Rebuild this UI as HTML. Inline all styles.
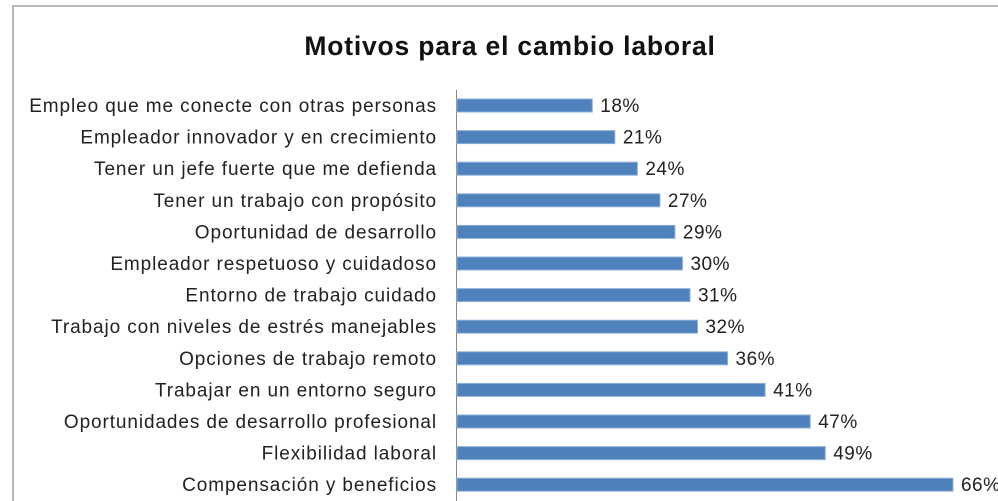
<!DOCTYPE html>
<html><head><meta charset="utf-8"><style>
html,body{margin:0;padding:0;background:#fff;width:998px;height:501px;overflow:hidden}
svg text{font-family:"Liberation Sans","DejaVu Sans",sans-serif}
</style></head><body>
<svg id="chart" width="998" height="501">
<rect x="13" y="6" width="990" height="510" fill="#fff" stroke="#a0a0a0" stroke-width="1.5"/>
<text x="510" y="55" text-anchor="middle" font-size="26.5" font-weight="bold" letter-spacing="0.8" fill="#111">Motivos para el cambio laboral</text>
<line x1="456.5" y1="90" x2="456.5" y2="501" stroke="#888" stroke-width="1"/>
<g id="bars"></g>
</svg>
<script>
const categories = ["Empleo que me conecte con otras personas","Empleador innovador y en crecimiento","Tener un jefe fuerte que me defienda","Tener un trabajo con propósito","Oportunidad de desarrollo","Empleador respetuoso y cuidadoso","Entorno de trabajo cuidado","Trabajo con niveles de estrés manejables","Opciones de trabajo remoto","Trabajar en un entorno seguro","Oportunidades de desarrollo profesional","Flexibilidad laboral","Compensación y beneficios"];
const values = [18,21,24,27,29,30,31,32,36,41,47,49,66];
const valueLabels = ["18%","21%","24%","27%","29%","30%","31%","32%","36%","41%","47%","49%","66%"];
const x0 = 457, pxPer = 7.515, y0 = 105.5, step = 31.6, bh = 13;
function xScale(v){ return x0 + v * pxPer; }
function yScale(i){ return y0 + i * step; }
const g = document.getElementById('bars');
const NS = 'http://www.w3.org/2000/svg';
categories.forEach((c, i) => {
  const y = yScale(i);
  const t = document.createElementNS(NS, 'text');
  t.setAttribute('x', 437); t.setAttribute('y', y + 6.5);
  t.setAttribute('text-anchor', 'end'); t.setAttribute('font-size', '19'); t.setAttribute('letter-spacing', '0.9'); t.setAttribute('fill', '#222');
  t.textContent = c;
  
  
  g.appendChild(t);
  const r = document.createElementNS(NS, 'rect');
  r.setAttribute('x', x0); r.setAttribute('y', y - bh / 2);
  r.setAttribute('width', xScale(values[i]) - x0); r.setAttribute('height', bh);
  r.setAttribute('fill', '#4f81bd'); r.setAttribute('stroke', '#8fb0d8'); r.setAttribute('stroke-width', '1');
  
  
  g.appendChild(r);
  const v = document.createElementNS(NS, 'text');
  v.setAttribute('x', xScale(values[i]) + 8); v.setAttribute('y', y + 6.5);
  v.setAttribute('font-size', '19'); v.setAttribute('letter-spacing', '0.5'); v.setAttribute('fill', '#222');
  v.textContent = valueLabels[i];
  
  
  g.appendChild(v);
});
</script>
</body></html>
